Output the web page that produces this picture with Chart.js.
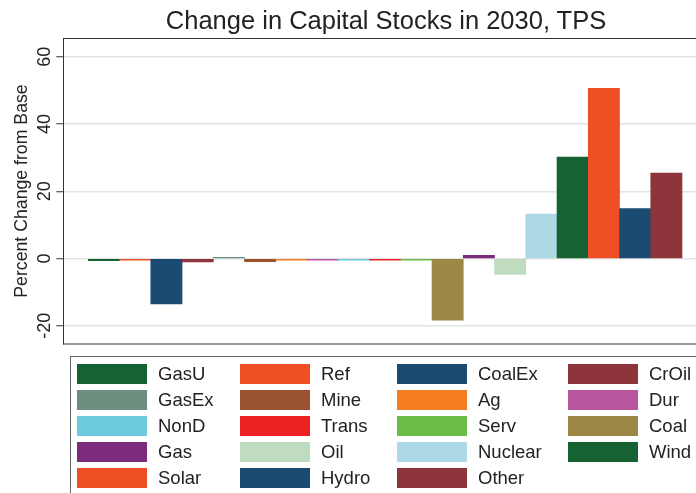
<!DOCTYPE html>
<html>
<head>
<meta charset="utf-8">
<script src="https://cdn.jsdelivr.net/npm/chart.js@4.4.1/dist/chart.umd.min.js"></script>
<style>
    body { margin: 0; background: #fff; overflow: hidden; font-family: "Liberation Sans", Arial, sans-serif; }
    #wrap { position: relative; width: 720px; height: 493px; }
    #title { position: absolute; left: 0; top: 8px; width: 772px; text-align: center; font-size: 25.5px; line-height: 25px; color: #222; white-space: nowrap; }
    #legend { position: absolute; left: 70px; top: 356px; width: 700px; height: 160px; border: 1px solid #666; box-sizing: border-box; }
    .item { position: absolute; height: 20px; }
    .sw { position: absolute; left: 0; top: 0; width: 70px; height: 20px; }
    .lb { position: absolute; left: 81px; top: -2px; font-size: 18.5px; line-height: 24px; color: #222; white-space: nowrap; }
</style>
</head>
<body>
<div id="wrap">
    <canvas id="capChart" width="720" height="493"></canvas>
    <div id="title">Change in Capital Stocks in 2030, TPS</div>
    <div id="legend"></div>
</div>
<script>
// sectors, in bar order
const sectors = ['GasU', 'Ref', 'CoalEx', 'CrOil', 'GasEx', 'Mine', 'Ag', 'Dur', 'NonD', 'Trans',
    'Serv', 'Coal', 'Gas', 'Oil', 'Nuclear', 'Wind', 'Solar', 'Hydro', 'Other'];
// percent change from base
const pctChange = [-0.6, -0.5, -13.5, -1.0, 0.4, -0.9, -0.5, -0.5, -0.5, -0.5,
    -0.5, -18.3, 1.0, -4.7, 13.2, 30.2, 50.6, 14.9, 25.4];
const barColors = ['#176232', '#f04e23', '#1b4a72', '#8e343b', '#6e8f80', '#9b5230', '#f47e20', '#b7559e', '#6ccbdc', '#ed2124',
    '#6abd45', '#9c8745', '#7c2a7c', '#c0dcc0', '#add8e6', '#176232', '#f04e23', '#1b4a72', '#8e343b'];
const yTicks = [-20, 0, 20, 40, 60];

// legend, 4 columns
const legCols = [77, 240, 397, 568];
const legend = document.getElementById('legend');
sectors.forEach((name, i) => {
    const d = document.createElement('div');
    d.className = 'item';
    d.style.left = (legCols[i % 4] - 71) + 'px';
    d.style.top = (7 + Math.floor(i / 4) * 26) + 'px';
    d.innerHTML = '<div class="sw" style="background:' + barColors[i] + '"></div><div class="lb">' + name + '</div>';
    legend.appendChild(d);
});

// frame lines + rotated y tick labels
const framePlugin = {
    id: 'frame',
    afterDraw(chart) {
        const { ctx, chartArea } = chart;
        const y = chart.scales.y;
        ctx.save();
        ctx.strokeStyle = '#333';
        ctx.lineWidth = 1;
        ctx.beginPath();
        ctx.moveTo(chartArea.left, chartArea.top + 0.5);
        ctx.lineTo(chartArea.right, chartArea.top + 0.5);
        ctx.moveTo(chartArea.left, chartArea.bottom);
        ctx.lineTo(chartArea.right, chartArea.bottom);
        ctx.stroke();
        ctx.fillStyle = '#222';
        ctx.font = '18px "Liberation Sans", Arial, sans-serif';
        ctx.textAlign = 'center';
        ctx.textBaseline = 'alphabetic';
        y.ticks.forEach(t => {
            ctx.save();
            ctx.translate(50, y.getPixelForValue(t.value));
            ctx.rotate(-Math.PI / 2);
            ctx.fillText(String(t.value), 0, 0);
            ctx.restore();
        });
        ctx.restore();
    }
};

new Chart(document.getElementById('capChart'), {
    type: 'bar',
    data: {
        datasets: [{
            data: pctChange.map((v, i) => ({ x: i, y: v })),
            backgroundColor: barColors,
            borderWidth: 0,
            categoryPercentage: 1,
            barPercentage: 1
        }]
    },
    options: {
        responsive: false,
        animation: false,
        layout: { padding: { top: 38, bottom: 149, left: 0, right: 13 } },
        plugins: { legend: { display: false }, tooltip: { enabled: false } },
        scales: {
            x: {
                type: 'linear',
                display: false,
                offset: false,
                min: -1.3,
                max: 19.3,
                afterBuildTicks: s => { s.ticks = sectors.map((c, i) => ({ value: i })); }
            },
            y: {
                min: -25.4,
                max: 65.6,
                afterBuildTicks: s => { s.ticks = yTicks.map(v => ({ value: v })); },
                afterFit: s => { s.width = 63.3; },
                ticks: { display: false },
                grid: { color: '#e3e3e3', lineWidth: 1.5, tickLength: 7, tickColor: '#333', tickWidth: 1 },
                border: { color: '#333', width: 1 },
                title: {
                    display: true,
                    text: 'Percent Change from Base',
                    color: '#222',
                    font: { family: '"Liberation Sans", Arial, sans-serif', size: 17.7 },
                    padding: { top: 11, bottom: 0 }
                }
            }
        }
    },
    plugins: [framePlugin]
});
</script>
</body>
</html>
